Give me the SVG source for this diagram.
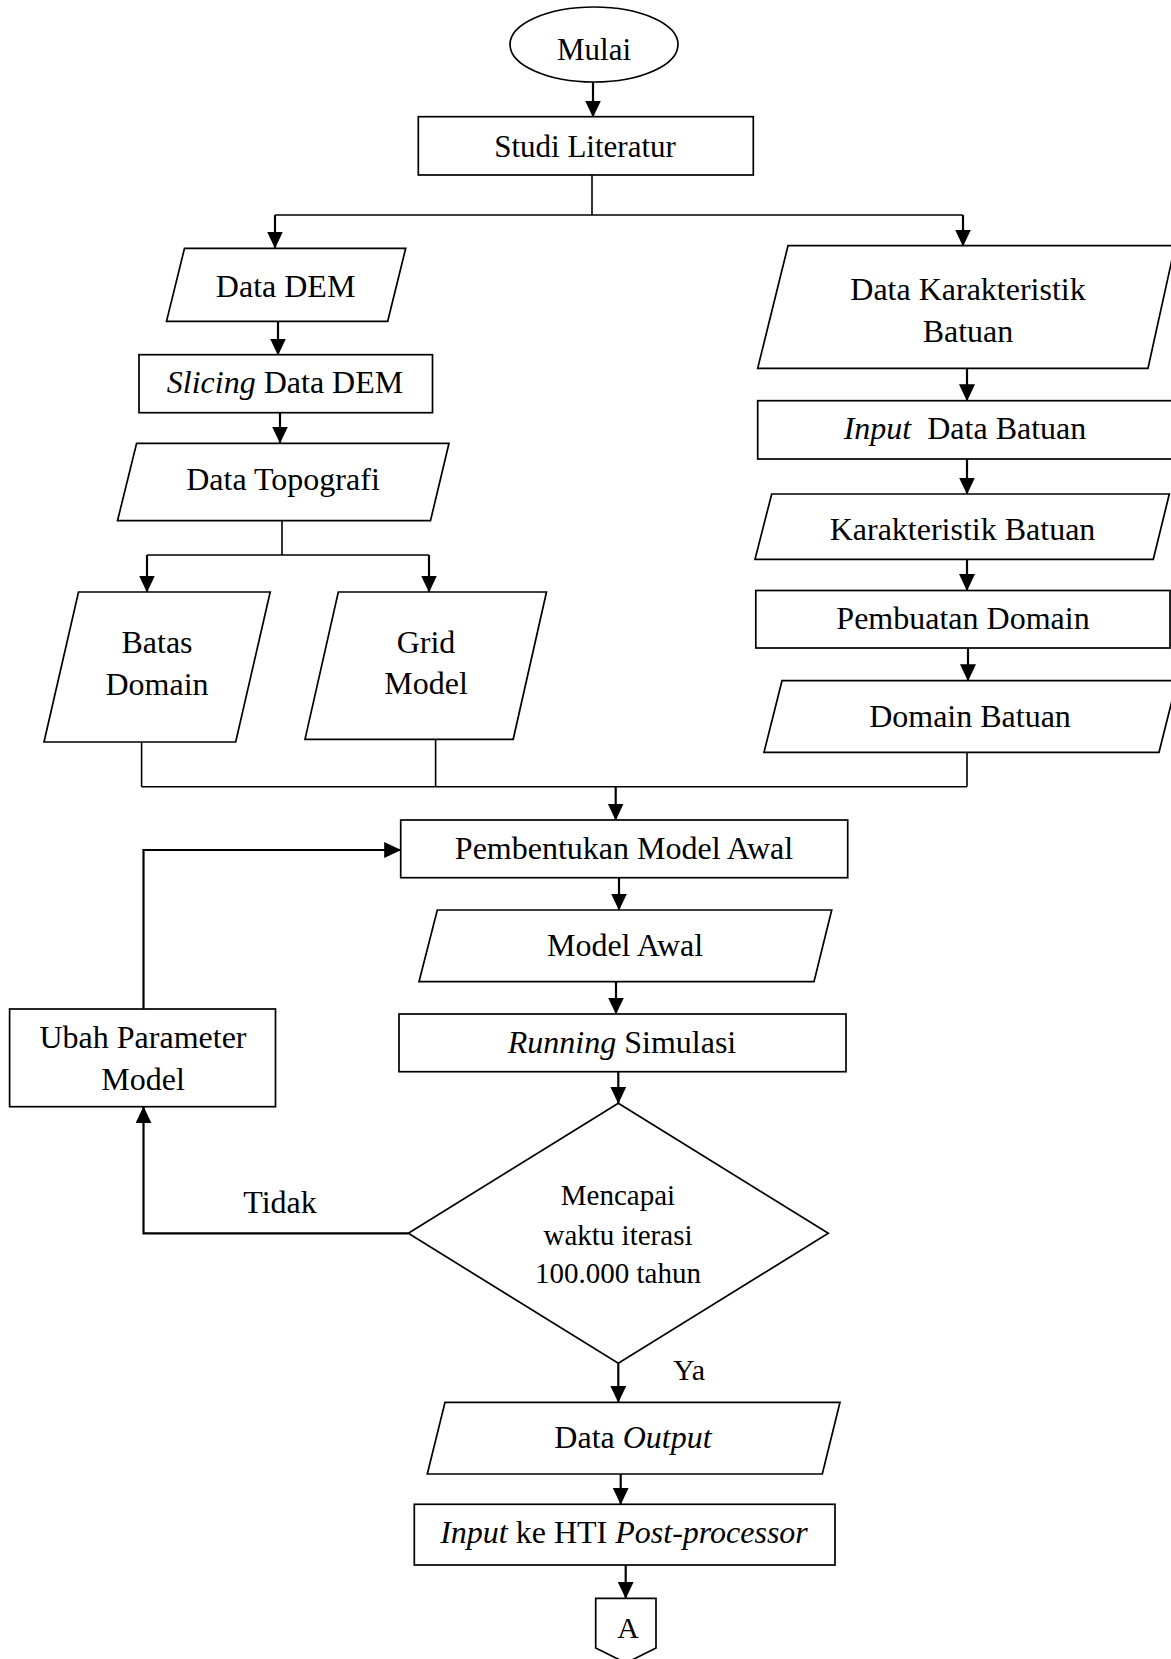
<svg xmlns="http://www.w3.org/2000/svg" width="1171" height="1659" viewBox="0 0 1171 1659">
<style>
.s{fill:#fff;stroke:#000;stroke-width:1.7}
.t{font-family:"Liberation Serif","Times New Roman",serif;font-size:32px;fill:#000;text-anchor:middle}
.d{font-size:29px}
.i{font-style:italic}
.c{fill:none;stroke:#000;stroke-width:1.6}
.a{fill:none;stroke:#000;stroke-width:2.2;marker-end:url(#ah)}
</style>
<defs>
<marker id="ah" markerUnits="userSpaceOnUse" markerWidth="18" markerHeight="18" refX="16.5" refY="8" orient="auto" viewBox="0 0 18 18">
<path d="M0,0 L17,8 L0,16 z" fill="#000"/>
</marker>
</defs>
<rect width="1171" height="1659" fill="#fff"/>
<g id="connectors">
<path class="a" d="M593,82 V117"/>
<path class="c" d="M592,175 V215 M275,215 H963"/>
<path class="a" d="M275,215 V248"/>
<path class="a" d="M963,215 V246"/>
<path class="a" d="M278,321 V355"/>
<path class="a" d="M280,413 V443"/>
<path class="c" d="M282,521 V555 M147,555 H429"/>
<path class="a" d="M147,555 V592"/>
<path class="a" d="M429,555 V592"/>
<path class="a" d="M967,368.5 V400.7"/>
<path class="a" d="M967,459 V494"/>
<path class="a" d="M967,559.3 V590.5"/>
<path class="a" d="M968,648 V680.7"/>
<path class="c" d="M141.6,742 V786.7 M435.6,739.3 V786.7 M967,752.3 V786.7 M141.6,786.7 H967"/>
<path class="a" d="M615.7,786.7 V820"/>
<path class="a" d="M619,877.7 V910"/>
<path class="a" d="M616,981.7 V1014"/>
<path class="a" d="M618.3,1071.7 V1103.3"/>
<path class="a" d="M408.3,1233.3 H143.5 V1106.7"/>
<path class="a" d="M143.5,1009 V850 H400.7"/>
<path class="a" d="M618.3,1363.3 V1402.3"/>
<path class="a" d="M620.7,1474 V1504.3"/>
<path class="a" d="M625.7,1565 V1598.3"/>
</g>
<g id="mulai"><ellipse class="s" cx="594" cy="44.5" rx="84" ry="37.5"/><text class="t" x="594" y="60" style="font-size:31px">Mulai</text></g>
<g id="studi"><rect class="s" x="418.3" y="116.7" width="335" height="58.3"/><text class="t" x="585" y="156.7" style="font-size:31px">Studi Literatur</text></g>
<g id="data-dem"><polygon class="s" points="184.5,248.3 405.7,248.3 387.7,321.3 166.5,321.3"/><text class="t" x="285.6" y="296.7">Data DEM</text></g>
<g id="slicing"><rect class="s" x="139" y="354.7" width="293.5" height="58"/><text class="t" x="285" y="393.3"><tspan class="i">Slicing</tspan> Data DEM</text></g>
<g id="topografi"><polygon class="s" points="136.6,443.3 449,443.3 430.5,520.7 117.5,520.7"/><text class="t" x="283" y="490">Data Topografi</text></g>
<g id="batas"><polygon class="s" points="78.5,592 270.2,592 235.7,742 44,742"/><text class="t" x="157" y="653.3">Batas</text><text class="t" x="157" y="695">Domain</text></g>
<g id="grid"><polygon class="s" points="338.3,592 546.5,592 513.2,739.3 305,739.3"/><text class="t" x="426" y="652.7">Grid</text><text class="t" x="426" y="694.3">Model</text></g>
<g id="data-karakteristik"><polygon class="s" points="788,245.7 1175,245.7 1148,368.3 757.7,368.3"/><text class="t" x="968" y="300">Data Karakteristik</text><text class="t" x="968" y="341.7">Batuan</text></g>
<g id="input-batuan"><rect class="s" x="757.7" y="400.7" width="427" height="58.3"/><text class="t" x="965" y="439.3" style="white-space:pre"><tspan class="i">Input</tspan>  Data Batuan</text></g>
<g id="karakteristik-batuan"><polygon class="s" points="771.7,494 1169.3,494 1153.3,559.3 755,559.3"/><text class="t" x="962.5" y="540">Karakteristik Batuan</text></g>
<g id="pembuatan"><rect class="s" x="755.8" y="590.5" width="414.2" height="57.5"/><text class="t" x="963" y="629.3">Pembuatan Domain</text></g>
<g id="domain-batuan"><polygon class="s" points="782,680.7 1177,680.7 1159,752.3 764,752.3"/><text class="t" x="970" y="726.7">Domain Batuan</text></g>
<g id="pembentukan"><rect class="s" x="400.7" y="820" width="447" height="57.7"/><text class="t" x="624" y="859.3">Pembentukan Model Awal</text></g>
<g id="model-awal"><polygon class="s" points="437.3,910 831.7,910 814,981.7 419,981.7"/><text class="t" x="625" y="955.7">Model Awal</text></g>
<g id="running"><rect class="s" x="399" y="1014" width="447" height="57.7"/><text class="t" x="622" y="1053.3"><tspan class="i">Running</tspan> Simulasi</text></g>
<g id="ubah"><rect class="s" x="9.6" y="1009" width="265.9" height="97.7"/><text class="t" x="143" y="1048.3">Ubah Parameter</text><text class="t" x="143" y="1090">Model</text></g>
<g id="keputusan"><polygon class="s" points="618.3,1103.3 828.3,1233.3 618.3,1363.3 408.3,1233.3"/><text class="t d" x="618" y="1205">Mencapai</text><text class="t d" x="618" y="1245">waktu iterasi</text><text class="t d" x="618" y="1283.3">100.000 tahun</text></g>
<g id="label-tidak"><text class="t" x="280" y="1212.7">Tidak</text></g>
<g id="label-ya"><text class="t" x="689" y="1380" style="font-size:30px">Ya</text></g>
<g id="data-output"><polygon class="s" points="445,1402.3 840,1402.3 822.3,1474 427.3,1474"/><text class="t" x="633" y="1448.3">Data <tspan class="i">Output</tspan></text></g>
<g id="input-hti"><rect class="s" x="414.3" y="1504.3" width="420.7" height="60.7"/><text class="t" x="624" y="1543.3"><tspan class="i">Input</tspan> ke HTI <tspan class="i">Post-processor</tspan></text></g>
<g id="konektor-a"><polygon class="s" points="595.7,1598.3 656,1598.3 656,1648 626,1663 595.7,1648"/><text class="t" x="628" y="1638.3" style="font-size:30px">A</text></g>
</svg>
